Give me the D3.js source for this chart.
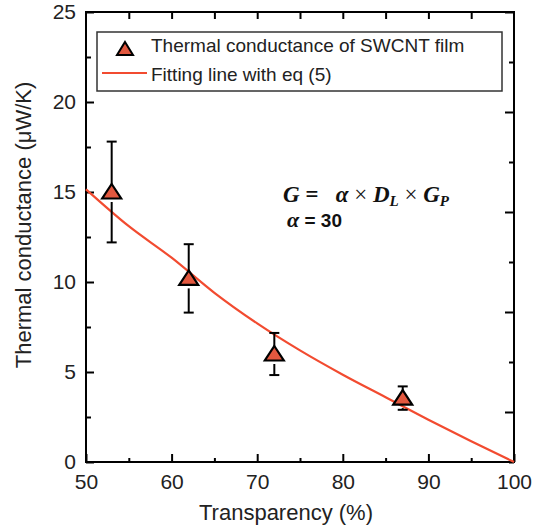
<!DOCTYPE html>
<html>
<head>
<meta charset="utf-8">
<script src="https://cdn.jsdelivr.net/npm/d3@7"></script>
<style>
  body { margin: 0; background: #fff; }
  svg { display: block; }
</style>
</head>
<body>
<script>
// measured points (transparency %, conductance uW/K, error bar half-height)
var transparency = [53, 62, 72, 87];
var conductance = [15.0, 10.2, 6.0, 3.55];
var errors = [2.8, 1.9, 1.17, 0.65];

// fitting line
var fitT = [50, 55, 60, 65, 70, 75, 80, 85, 90, 95, 100];
var fitG = [15.15, 13.1, 11.35, 9.4, 7.7, 6.2, 4.85, 3.6, 2.35, 1.15, 0];

// ticks
var xMajor = [50, 60, 70, 80, 90, 100];
var xMinor = [55, 65, 75, 85, 95];
var xTop = [55, 60, 65, 70, 75, 80, 85, 90, 95];
var yMajor = [0, 5, 10, 15, 20, 25];
var yMinor = [2.5, 7.5, 12.5, 17.5, 22.5];
// right axis is not linked to the left one, it has 9 steps
var rightMajor = [1, 3, 5, 7, 9];
var rightMinor = [0, 2, 4, 6, 8];

var w = 536, h = 528;
var pL = 86, pR = 514, pT = 12, pB = 462;
var red = "#f24b30", fill = "#e2583f";

var svg = d3.select("body").append("svg")
  .attr("width", w)
  .attr("height", h)
  .style("font-family", "'Liberation Sans', Arial, sans-serif");

var x = d3.scaleLinear().domain([50, 100]).range([pL, pR]);
var y = d3.scaleLinear().domain([0, 25]).range([pB, pT]);
var yR = d3.scaleLinear().domain([0, 9]).range([pB, pT]);

function styleAxis(g) {
  g.select(".domain").remove();
  g.selectAll("line").attr("stroke", "#000").attr("stroke-width", 2);
  g.selectAll("text").attr("fill", "#222").attr("font-size", "21px")
   .attr("font-family", "'Liberation Sans', Arial, sans-serif");
}

// bottom
svg.append("g").attr("transform", "translate(0," + pB + ")")
  .call(d3.axisBottom(x).tickValues(xMajor).tickSize(-8).tickPadding(12).tickFormat(d3.format("d")))
  .call(styleAxis);
svg.append("g").attr("transform", "translate(0," + pB + ")")
  .call(d3.axisBottom(x).tickValues(xMinor).tickSize(-4).tickFormat(""))
  .call(styleAxis);
// top
svg.append("g").attr("transform", "translate(0," + pT + ")")
  .call(d3.axisTop(x).tickValues(xTop).tickSize(-7).tickFormat(""))
  .call(styleAxis);
// left
svg.append("g").attr("transform", "translate(" + pL + ",0)")
  .call(d3.axisLeft(y).tickValues(yMajor).tickSize(-8).tickPadding(10).tickFormat(d3.format("d")))
  .call(styleAxis);
svg.append("g").attr("transform", "translate(" + pL + ",0)")
  .call(d3.axisLeft(y).tickValues(yMinor).tickSize(-5).tickFormat(""))
  .call(styleAxis);
// right
svg.append("g").attr("transform", "translate(" + pR + ",0)")
  .call(d3.axisRight(yR).tickValues(rightMajor).tickSize(-9).tickFormat(""))
  .call(styleAxis);
svg.append("g").attr("transform", "translate(" + pR + ",0)")
  .call(d3.axisRight(yR).tickValues(rightMinor).tickSize(-5).tickFormat(""))
  .call(styleAxis);

// frame
svg.append("rect")
  .attr("x", pL).attr("y", pT)
  .attr("width", pR - pL).attr("height", pB - pT)
  .attr("fill", "none").attr("stroke", "#000").attr("stroke-width", 2);

// axis titles
svg.append("text")
  .attr("x", (pL + pR) / 2 - 14).attr("y", 520)
  .attr("text-anchor", "middle").attr("font-size", "22px").attr("fill", "#222")
  .text("Transparency (%)");
svg.append("text")
  .attr("transform", "translate(31," + 225 + ") rotate(-90)")
  .attr("text-anchor", "middle").attr("font-size", "22px").attr("fill", "#222")
  .text("Thermal conductance (\u03bcW/K)");

// fitting line
var line = d3.line()
  .x(function(d, i) { return x(fitT[i]); })
  .y(function(d) { return y(d); })
  .curve(d3.curveMonotoneX);
svg.append("path")
  .datum(fitG)
  .attr("d", line)
  .attr("fill", "none")
  .attr("stroke", red)
  .attr("stroke-width", 2.2);

function triangle(cx, cy, hw, up, down) {
  return "M" + cx + "," + (cy - up) + "L" + (cx + hw) + "," + (cy + down) +
         "L" + (cx - hw) + "," + (cy + down) + "Z";
}

// error bars
var pts = svg.append("g");
conductance.forEach(function(v, i) {
  var cx = x(transparency[i]), cy = y(v);
  var yt = y(v + errors[i]), yb = y(v - errors[i]);
  pts.append("line").attr("x1", cx).attr("x2", cx).attr("y1", yt).attr("y2", cy)
    .attr("stroke", "#000").attr("stroke-width", 2);
  if (yb > cy + 10) {
    pts.append("line").attr("x1", cx).attr("x2", cx).attr("y1", cy + 10).attr("y2", yb)
      .attr("stroke", "#000").attr("stroke-width", 2);
  }
  pts.append("line").attr("x1", cx - 5).attr("x2", cx + 5).attr("y1", yt).attr("y2", yt)
    .attr("stroke", "#000").attr("stroke-width", 2);
  pts.append("line").attr("x1", cx - 5).attr("x2", cx + 5).attr("y1", yb).attr("y2", yb)
    .attr("stroke", "#000").attr("stroke-width", 2);
});

// markers
pts.selectAll("path.mark")
  .data(conductance)
  .enter()
  .append("path")
  .attr("class", "mark")
  .attr("d", function(d, i) { return triangle(x(transparency[i]), y(d), 9.5, 8, 6.5); })
  .attr("fill", fill)
  .attr("stroke", "#000")
  .attr("stroke-width", 2.2)
  .attr("stroke-linejoin", "miter");

// legend
var lg = svg.append("g");
lg.append("rect")
  .attr("x", 97).attr("y", 32).attr("width", 405).attr("height", 59)
  .attr("fill", "#fff").attr("stroke", "#333").attr("stroke-width", 1.5);
lg.append("path")
  .attr("d", triangle(125, 49, 8, 7, 6))
  .attr("fill", fill).attr("stroke", "#000").attr("stroke-width", 2);
lg.append("text").attr("x", 151).attr("y", 52).attr("font-size", "19px").attr("fill", "#222")
  .text("Thermal conductance of SWCNT film");
lg.append("line").attr("x1", 102).attr("x2", 147).attr("y1", 73).attr("y2", 73)
  .attr("stroke", red).attr("stroke-width", 2);
lg.append("text").attr("x", 151).attr("y", 81).attr("font-size", "19px").attr("fill", "#222")
  .text("Fitting line with eq (5)");

// equation
var eq = svg.append("text")
  .attr("x", 283).attr("y", 202)
  .attr("font-family", "'Liberation Serif', 'Times New Roman', serif")
  .attr("font-size", "23px").attr("font-weight", "bold").attr("font-style", "italic")
  .attr("fill", "#111");
eq.append("tspan").text("G\u00a0=\u00a0\u00a0\u00a0\u03b1\u00a0");
eq.append("tspan").attr("font-style", "normal").attr("font-weight", "normal").text("\u00d7");
eq.append("tspan").text("\u00a0D");
eq.append("tspan").attr("font-size", "15px").attr("dy", 4).text("L");
eq.append("tspan").attr("dy", -4).attr("font-style", "normal").attr("font-weight", "normal").text("\u00a0\u00d7");
eq.append("tspan").text("\u00a0G");
eq.append("tspan").attr("font-size", "15px").attr("dy", 4).text("P");

var eq2 = svg.append("text").attr("x", 287).attr("y", 227).attr("fill", "#111");
eq2.append("tspan")
  .attr("font-family", "'Liberation Serif', 'Times New Roman', serif")
  .attr("font-size", "22px").attr("font-style", "italic").attr("font-weight", "bold")
  .text("\u03b1");
eq2.append("tspan")
  .attr("font-size", "19px").attr("font-weight", "bold")
  .text(" = 30");
</script>
</body>
</html>
